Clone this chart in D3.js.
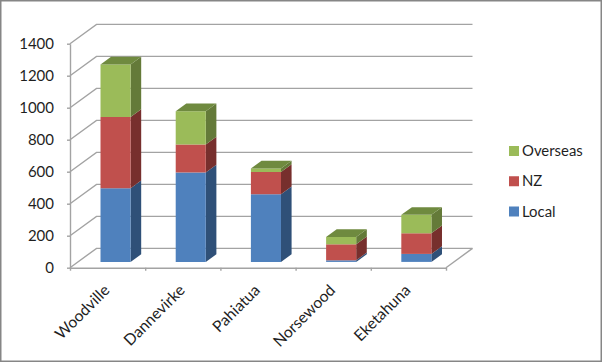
<!DOCTYPE html>
<html>
<head>
<meta charset="utf-8">
<script src="https://cdn.jsdelivr.net/npm/d3@7"></script>
<style>
	html, body { margin: 0; padding: 0; background: #fff; }
	svg { display: block; }
	text { font-family: Lato, "Open Sans", sans-serif; fill: #1f1f1f; }
</style>
</head>
<body>
<div id="chart"></div>
<script>
'use strict';

const towns = ['Woodville', 'Dannevirke', 'Pahiatua', 'Norsewood', 'Eketahuna'];
const seriesNames = ['Local', 'NZ', 'Overseas'];
const localValues = [460, 559, 423, 10, 50];
const nzValues = [446, 175, 139, 100, 129];
const overseasValues = [328, 208, 22, 46, 115];
const yTicks = [0, 200, 400, 600, 800, 1000, 1200, 1400];

const frontColors = {Local: '#4f81bd', NZ: '#c0504d', Overseas: '#9bbb59'};
const sideColors = {Local: '#2f5078', NZ: '#772f2d', Overseas: '#647a39'};
const topColor = '#6f8a3f';
const gridColor = '#a3a3a3';

const width = 602;
const height = 362;

// Floor goes back 26px right and 19px up from the front axis
const depthX = d3.scaleLinear().domain([0, 1]).range([0, 26.5]);
const depthY = d3.scaleLinear().domain([0, 1]).range([0, -19.3]);

const x = d3.scaleBand().domain(towns).range([70, 446]).paddingInner(0).paddingOuter(0);
const xEdges = d3.scaleLinear().domain([0, towns.length]).range([70, 446]);
const y = d3.scaleLinear().domain([0, 1400]).range([267.7, 43.7]);

// Bar takes the middle 40% of the band, and of the floor depth
const barFrom = 0.3;
const barTo = 0.7;

function project(px, value, depth){
	return [px + depthX(depth), y(value) + depthY(depth)];
}

function face(points){
	return 'M' + points.map(p => p.join(',')).join('L') + 'Z';
}

const table = towns.map((t, i) => ({
	town: t,
	Local: localValues[i],
	NZ: nzValues[i],
	Overseas: overseasValues[i]
}));
const stacked = d3.stack().keys(seriesNames)(table);

const svg = d3.select('#chart')
	.append('svg')
	.attr('width', width)
	.attr('height', height);

// Outer frame
svg.append('rect')
	.attr('x', 0.75)
	.attr('y', 0.75)
	.attr('width', width - 1.5)
	.attr('height', height - 1.5)
	.attr('fill', '#fff')
	.attr('stroke', '#868686')
	.attr('stroke-width', 1.5);

// Gridlines on the back wall and slanted lines on the side wall
const grid = svg.append('g')
	.attr('fill', 'none')
	.attr('stroke', gridColor)
	.attr('stroke-width', 1.4);

grid.selectAll('path.back')
	.data(yTicks)
	.enter()
	.append('path')
		.attr('class', 'back')
		.attr('d', d => d3.line()([
			project(x.range()[0], d, 0),
			project(x.range()[0], d, 1),
			project(x.range()[1], d, 1)
		]));

// Right edge of the floor
grid.append('path')
	.attr('d', d3.line()([project(x.range()[1], 0, 0), project(x.range()[1], 0, 1)]));

// Bars, one stack after the other, bottom to top
const bars = svg.append('g');
const barWidth = x.bandwidth() * 0.4;

stacked.forEach(layer => {
	const name = layer.key;
	layer.forEach((d, i) => {
		const x0 = x(towns[i]) + (x.bandwidth() - barWidth) / 2;
		const x1 = x0 + barWidth;
		bars.append('path')
			.attr('fill', sideColors[name])
			.attr('d', face([
				project(x1, d[0], barFrom),
				project(x1, d[0], barTo),
				project(x1, d[1], barTo),
				project(x1, d[1], barFrom)
			]));
		bars.append('path')
			.attr('fill', frontColors[name])
			.attr('d', face([
				project(x0, d[0], barFrom),
				project(x1, d[0], barFrom),
				project(x1, d[1], barFrom),
				project(x0, d[1], barFrom)
			]));
		if(name === 'Overseas'){
			bars.append('path')
				.attr('fill', topColor)
				.attr('d', face([
					project(x0, d[1], barFrom),
					project(x1, d[1], barFrom),
					project(x1, d[1], barTo),
					project(x0, d[1], barTo)
				]));
		}
	});
});

// Value axis
const yAxis = svg.append('g')
	.attr('transform', 'translate(70,0)')
	.call(d3.axisLeft(y).tickValues(yTicks).tickFormat(d3.format('d')).tickSize(3).tickSizeOuter(0).tickPadding(13));
yAxis.selectAll('path, line').attr('stroke', gridColor).attr('stroke-width', 1.4);
yAxis.selectAll('line').attr('x2', -3);
yAxis.selectAll('text')
	.style('font-family', 'Lato, "Open Sans", sans-serif')
	.style('font-size', '15px')
	.attr('fill', '#1f1f1f');

// Category axis: tick marks sit on the band edges, labels on the centres
const xTickAxis = svg.append('g')
	.attr('transform', 'translate(0,267.7)')
	.call(d3.axisBottom(xEdges).ticks(towns.length).tickSize(3).tickSizeOuter(0).tickFormat(''));
xTickAxis.selectAll('path, line').attr('stroke', gridColor).attr('stroke-width', 1.4);

const xLabels = svg.append('g')
	.attr('transform', 'translate(-2,289)')
	.call(d3.axisBottom(x).tickSize(0).tickPadding(0));
xLabels.select('.domain').remove();
xLabels.selectAll('text')
	.style('font-family', 'Lato, "Open Sans", sans-serif')
	.style('font-size', '15.7px')
	.attr('fill', '#1f1f1f')
	.attr('text-anchor', 'end')
	.attr('dy', '0.71em')
	.attr('transform', 'rotate(-45) translate(2,-6)');

// Legend, top to bottom is the reverse of the stack order
const legendY = d3.scalePoint().domain(seriesNames.slice().reverse()).range([151, 211.5]);
const legend = svg.append('g')
	.selectAll('g')
	.data(seriesNames)
	.enter()
	.append('g')
		.attr('transform', d => 'translate(509,' + legendY(d) + ')');
legend.append('rect')
	.attr('x', 0)
	.attr('y', -5)
	.attr('width', 10)
	.attr('height', 10)
	.attr('fill', d => frontColors[d]);
legend.append('text')
	.attr('x', 13)
	.attr('dy', '0.35em')
	.style('font-size', '14.9px')
	.text(d => d);
</script>
</body>
</html>
